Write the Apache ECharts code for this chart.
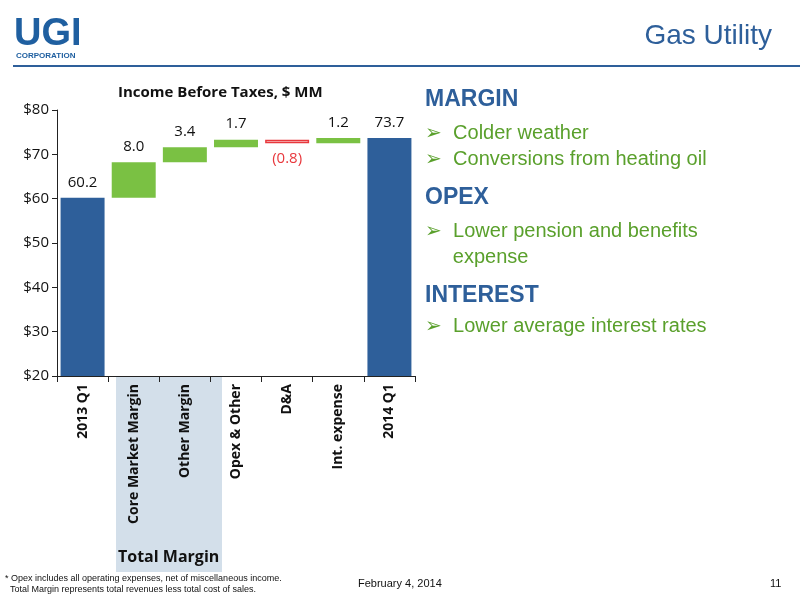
<!DOCTYPE html>
<html><head><meta charset="utf-8">
<script src="https://cdn.jsdelivr.net/npm/echarts@6/dist/echarts.min.js"></script>
<style>body{margin:0}#c{width:800px;height:600px}</style>
</head><body><div id="c"></div>
<script>
var categories = ['2013 Q1', 'Core Market Margin', 'Other Margin', 'Opex & Other', 'D&A', 'Int. expense', '2014 Q1'];
var changes = [60.2, 8.0, 3.4, 1.7, -0.8, 1.2, 73.7];
var isTotal = [true, false, false, false, false, false, true];
var yTicks = ['$20', '$30', '$40', '$50', '$60', '$70', '$80'];

// running base for the floating bars
var base = [], vis = [], run = 0;
changes.forEach(function (v, i) {
    if (isTotal[i]) { base.push(0); vis.push(v); run = v; return; }
    if (v >= 0) { base.push(run); vis.push(v); run += v; }
    else { run += v; base.push(run); vis.push(-v); }
});
var visData = vis.map(function (v, i) {
    var neg = changes[i] < 0;
    return {
        value: v,
        itemStyle: isTotal[i] ? {color: '#2e5f9a'} :
            neg ? {color: '#fff', borderColor: '#e8383d', borderWidth: 1.5} : {color: '#7ac143'},
        label: {
            position: neg ? 'bottom' : 'top',
            color: neg ? '#e8383d' : '#111',
            formatter: neg ? '(' + (-changes[i]).toFixed(1) + ')' : changes[i].toFixed(1)
        }
    };
});

var myChart = echarts.init(document.getElementById('c'));
var F = 'Open Sans';
myChart.setOption({
    backgroundColor: '#fff',
    animation: false,
    grid: {left: 57, top: 110, width: 358, height: 266},
    xAxis: {
        type: 'category', data: categories,
        axisLine: {lineStyle: {color: '#222'}},
        axisTick: {show: true, length: 6, lineStyle: {color: '#222'}},
        axisLabel: {rotate: 90, interval: 0, fontFamily: F, fontWeight: 'bold', fontSize: 14, color: '#111', margin: 8}
    },
    yAxis: {
        type: 'value', min: 20, max: 80, interval: 10,
        splitLine: {show: false},
        axisLine: {show: true, lineStyle: {color: '#222'}},
        axisTick: {show: true, lineStyle: {color: '#222'}},
        axisLabel: {fontFamily: F, fontSize: 15, color: '#111', formatter: function (v) { return yTicks[(v - 20) / 10]; }}
    },
    graphic: [
        {type: 'rect', z: -10, shape: {x: 116, y: 377, width: 106, height: 195}, style: {fill: '#d3dfea'}},
        {type: 'text', left: 118, top: 549, style: {text: 'Total Margin', font: 'bold 16px "Open Sans"', fill: '#111'}},
        {type: 'text', left: 118, top: 85, style: {text: 'Income Before Taxes, $ MM', font: 'bold 15px "Open Sans"', fill: '#111'}},
        {type: 'text', left: 14, top: 16, style: {text: 'UGI', font: 'bold 38px "Liberation Sans"', fill: '#1f5fa0'}},
        {type: 'text', left: 16, top: 52, style: {text: 'CORPORATION', font: 'bold 8px "Liberation Sans"', fill: '#1f5fa0'}},
        {type: 'rect', shape: {x: 13, y: 65, width: 787, height: 2}, style: {fill: '#2e5f9a'}},
        {type: 'text', right: 28, top: 22, style: {text: 'Gas Utility', font: '28px "Liberation Sans"', fill: '#2e5f9a'}},
        {type: 'text', left: 425, top: 88, style: {text: 'MARGIN', font: 'bold 23px "Liberation Sans"', fill: '#2e5f9a'}},
        {type: 'text', left: 425, top: 120, style: {text: '➢  Colder weather\n➢  Conversions from heating oil', font: '20px "Liberation Sans"', fill: '#5aa02c', lineHeight: 26}},
        {type: 'text', left: 425, top: 186, style: {text: 'OPEX', font: 'bold 23px "Liberation Sans"', fill: '#2e5f9a'}},
        {type: 'text', left: 425, top: 218, style: {text: '➢  Lower pension and benefits\n     expense', font: '20px "Liberation Sans"', fill: '#5aa02c', lineHeight: 26}},
        {type: 'text', left: 425, top: 284, style: {text: 'INTEREST', font: 'bold 23px "Liberation Sans"', fill: '#2e5f9a'}},
        {type: 'text', left: 425, top: 316, style: {text: '➢  Lower average interest rates', font: '20px "Liberation Sans"', fill: '#5aa02c'}},
        {type: 'text', left: 5, top: 573, style: {text: '* Opex includes all operating expenses, net of miscellaneous income.\n  Total Margin represents total revenues less total cost of sales.', font: '9px "Liberation Sans"', fill: '#111', lineHeight: 11}},
        {type: 'text', left: 358, top: 578, style: {text: 'February 4, 2014', font: '11px "Liberation Sans"', fill: '#111'}},
        {type: 'text', left: 770, top: 578, style: {text: '11', font: '11px "Liberation Sans"', fill: '#111'}}
    ],
    series: [
        {type: 'bar', stack: 'w', data: base, barCategoryGap: '14%', itemStyle: {color: 'transparent'}, silent: true},
        {type: 'bar', stack: 'w', data: visData, label: {show: true, fontFamily: F, fontSize: 15, distance: 8}}
    ]
});
</script></body></html>
